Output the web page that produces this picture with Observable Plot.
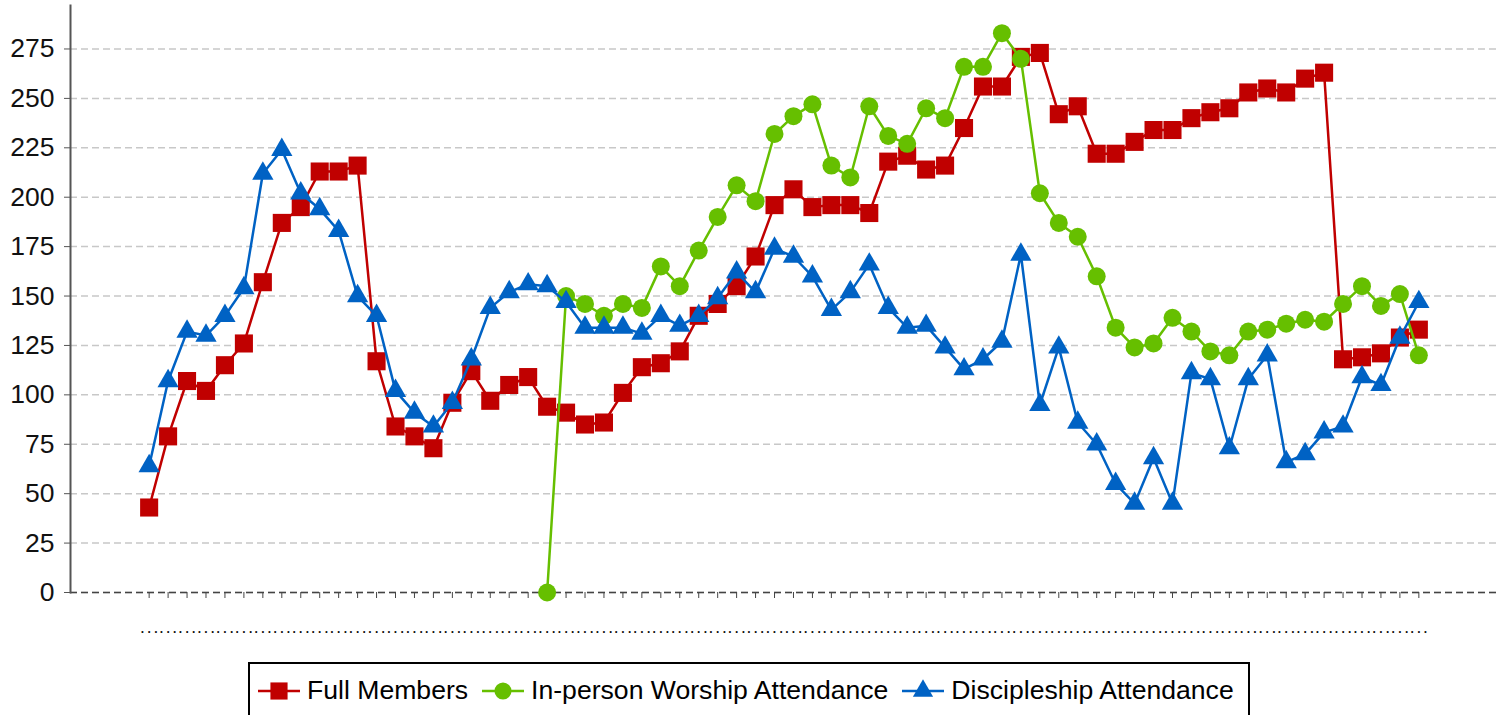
<!DOCTYPE html>
<html><head><meta charset="utf-8">
<script src="https://cdn.jsdelivr.net/npm/d3@7"></script>
<script src="https://cdn.jsdelivr.net/npm/@observablehq/plot@0.6"></script>
<style>
body{margin:0;background:#fff;font-family:"Liberation Sans",Arial,sans-serif;}
#chart svg{display:block}
.legend{margin-left:248px;margin-top:20px;width:1002px;box-sizing:border-box;border:2px solid #000;padding:11px 0 16px 8px;display:flex;align-items:center;font-size:26.6px;color:#000;white-space:nowrap}
.item{display:flex;align-items:center;margin-right:14px}
.item svg{margin-right:7px;display:block}
</style></head><body>
<div id="chart"></div>
<div class="legend" id="legend"></div>
<script>
const periods = d3.range(68);
const tickLabels = periods.map(() => ". . .");
const yTicks = [0, 25, 50, 75, 100, 125, 150, 175, 200, 225, 250, 275];

const seriesNames = ["Full Members", "In-person Worship Attendance", "Discipleship Attendance"];
const seriesColors = ["#C00000", "#66BF00", "#0062C4"];
const seriesSymbols = ["square", "circle", "triangle"];
const seriesR = [10.2, 9, 7.9];

const fullMembers = [43,79,107,102,115,126,157,187,195,213,213,216,117,84,79,73,96,112,97,105,109,94,91,85,86,101,114,116,122,140,146,155,170,196,204,195,196,196,192,218,221,214,216,235,256,256,271,273,242,246,222,222,228,234,234,240,243,245,253,255,253,260,263,118,119,121,129,133];
const worship = [null,null,null,null,null,null,null,null,null,null,null,null,null,null,null,null,null,null,null,null,null,
  0,150,146,140,146,144,165,155,173,190,206,198,232,241,247,216,210,246,231,227,245,240,266,266,283,270,202,187,180,160,134,124,126,139,132,122,120,132,133,136,138,137,146,155,145,151,120];
const discipleship = [64,107,132,130,140,154,212,224,202,194,183,150,140,102,91,84,96,118,144,152,156,155,147,134,134,134,131,140,135,140,149,162,152,174,170,160,143,152,166,144,134,135,124,113,118,127,171,95,124,86,75,55,45,68,45,111,108,73,108,120,66,70,81,84,109,105,129,147];

const seriesValues = [fullMembers, worship, discipleship];

const seriesMarks = seriesValues.flatMap((vals, k) => [
  Plot.line(periods, {x: d => d, y: i => vals[i], stroke: seriesColors[k], strokeWidth: 2.5}),
  Plot.dot(periods, {x: d => d, y: i => vals[i], symbol: seriesSymbols[k], r: seriesR[k], fill: seriesColors[k], stroke: null})
]);

const plot = Plot.plot({
  width: 1504, height: 642,
  marginLeft: 70, marginRight: 7, marginTop: 5, marginBottom: 50,
  style: {fontFamily: "Liberation Sans, Arial, sans-serif", background: "#fff", color: "#111"},
  x: {type: "point", domain: periods, padding: 4.15, align: 0.5},
  y: {domain: [0, 297]},
  marks: [
    Plot.gridY(yTicks, {stroke: "#c8c8c8", strokeOpacity: 1, strokeDasharray: "7,4", strokeWidth: 1.5}),
    Plot.ruleY([0], {stroke: "#444", strokeDasharray: "7,4", strokeWidth: 1.5}),
    Plot.frame({anchor: "left", stroke: "#555", strokeWidth: 2}),
    Plot.axisY(yTicks, {tickSize: 6, tickPadding: 10, fontSize: 26.5, stroke: "#555", fill: "#111"}),
    Plot.axisX(periods, {tickSize: 6, tickPadding: 26, fontSize: 12, fontWeight: "bold", tickFormat: i => tickLabels[i], stroke: "#444", fill: "#111"}),
    ...seriesMarks
  ]
});
document.getElementById("chart").appendChild(plot);

const legend = document.getElementById("legend");
const sym = {square: d3.symbolSquare, circle: d3.symbolCircle, triangle: d3.symbolTriangle};
seriesNames.forEach((name, k) => {
  const item = document.createElement("div");
  item.className = "item";
  const path = d3.symbol(sym[seriesSymbols[k]], Math.PI * seriesR[k] * seriesR[k] * 0.9)();
  item.innerHTML = `<svg width="42" height="24" viewBox="0 0 42 24"><line x1="0" x2="42" y1="12" y2="12" stroke="${seriesColors[k]}" stroke-width="2.5"/><path transform="translate(21,12)" d="${path}" fill="${seriesColors[k]}"/></svg><span>${name}</span>`;
  legend.appendChild(item);
});
</script>
</body></html>
